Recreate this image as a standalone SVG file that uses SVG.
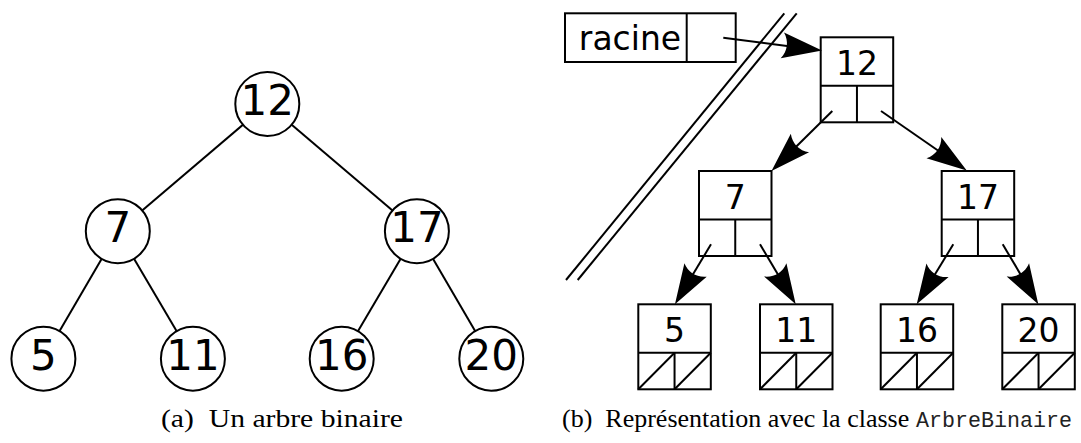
<svg xmlns="http://www.w3.org/2000/svg" width="1081" height="443" viewBox="0 0 1081 443">
<style>
.c{fill:#fff;stroke:#000;stroke-width:2}
.ln{stroke:#000;stroke-width:2;fill:none}
.ct{font-family:"DejaVu Sans",sans-serif;font-size:42px;text-anchor:middle;fill:#000}
.bt{font-family:"DejaVu Sans",sans-serif;font-size:33px;text-anchor:middle;fill:#000}
.bx{fill:#fff;stroke:#000;stroke-width:2}
.cap{font-family:"Liberation Serif",serif;font-size:26px;fill:#000}
.mono{font-family:"Liberation Mono",monospace;font-size:22px;fill:#222}
</style>
<defs>
<marker id="ah" markerUnits="userSpaceOnUse" viewBox="-45 -16 50 32" markerWidth="50" markerHeight="32" refX="-10" refY="0" orient="auto" overflow="visible">
<path d="M0,0 L-40,-13 C-34,-5 -34,5 -40,13 Z" fill="#000"/>
</marker>
<g id="node">
<rect class="bx" x="0" y="0" width="72.5" height="85"/>
<line class="ln" x1="0" y1="48.5" x2="72.5" y2="48.5"/>
<line class="ln" x1="36.25" y1="48.5" x2="36.25" y2="85"/>
</g>
<g id="nil">
<line class="ln" x1="0" y1="85" x2="36.25" y2="48.5"/>
<line class="ln" x1="36.25" y1="85" x2="72.5" y2="48.5"/>
</g>
</defs>
<rect width="1081" height="443" fill="#fff"/>

<!-- Left tree -->
<g id="edges-a">
<line class="ln" x1="267.3" y1="104" x2="117.8" y2="231.2"/>
<line class="ln" x1="267.3" y1="104" x2="416.9" y2="231.2"/>
<line class="ln" x1="117.8" y1="231.2" x2="43.4" y2="358.7"/>
<line class="ln" x1="117.8" y1="231.2" x2="192.9" y2="358.7"/>
<line class="ln" x1="416.9" y1="231.2" x2="341.7" y2="358.7"/>
<line class="ln" x1="416.9" y1="231.2" x2="491.3" y2="358.7"/>
</g>
<g id="a12"><circle class="c" cx="267.3" cy="104" r="32"/><text class="ct" x="267.3" y="115">12</text></g>
<g id="a7"><circle class="c" cx="117.8" cy="231.2" r="32"/><text class="ct" x="117.8" y="242.2">7</text></g>
<g id="a17"><circle class="c" cx="416.9" cy="231.2" r="32"/><text class="ct" x="416.9" y="242.2">17</text></g>
<g id="a5"><circle class="c" cx="43.4" cy="358.7" r="32"/><text class="ct" x="43.4" y="369.7">5</text></g>
<g id="a11"><circle class="c" cx="192.9" cy="358.7" r="32"/><text class="ct" x="192.9" y="369.7">11</text></g>
<g id="a16"><circle class="c" cx="341.7" cy="358.7" r="32"/><text class="ct" x="341.7" y="369.7">16</text></g>
<g id="a20"><circle class="c" cx="491.3" cy="358.7" r="32"/><text class="ct" x="491.3" y="369.7">20</text></g>

<!-- Right representation -->
<g id="separator">
<line class="ln" x1="784.3" y1="13.3" x2="566" y2="280"/>
<line class="ln" x1="796.7" y1="13.3" x2="577.7" y2="280"/>
</g>
<g id="racine">
<rect class="bx" x="565" y="13.3" width="170.7" height="48.7"/>
<line class="ln" x1="686.7" y1="13.3" x2="686.7" y2="62"/>
<text class="bt" x="630" y="50">racine</text>
</g>
<g id="b12"><use href="#node" x="820.7" y="37.3"/><text class="bt" x="857" y="74.8">12</text></g>
<g id="b7"><use href="#node" x="699" y="171"/><text class="bt" x="735.3" y="208.5">7</text></g>
<g id="b17"><use href="#node" x="941.7" y="171"/><text class="bt" x="978" y="208.5">17</text></g>
<g id="b5"><use href="#node" x="638.3" y="304.3"/><use href="#nil" x="638.3" y="304.3"/><text class="bt" x="674.6" y="341.8">5</text></g>
<g id="b11"><use href="#node" x="760" y="304.3"/><use href="#nil" x="760" y="304.3"/><text class="bt" x="796.3" y="341.8">11</text></g>
<g id="b16"><use href="#node" x="880.7" y="304.3"/><use href="#nil" x="880.7" y="304.3"/><text class="bt" x="917" y="341.8">16</text></g>
<g id="b20"><use href="#node" x="1002.3" y="304.3"/><use href="#nil" x="1002.3" y="304.3"/><text class="bt" x="1038.6" y="341.8">20</text></g>

<g id="connectors">
<line class="ln" x1="723.3" y1="37.7" x2="812.1" y2="49.2" marker-end="url(#ah)"/>
<line class="ln" x1="832.3" y1="111" x2="778.6" y2="164" marker-end="url(#ah)"/>
<line class="ln" x1="881" y1="111" x2="958.5" y2="164.8" marker-end="url(#ah)"/>
<line class="ln" x1="711" y1="244.3" x2="680.1" y2="295.7" marker-end="url(#ah)"/>
<line class="ln" x1="760" y1="244.3" x2="790.6" y2="295.7" marker-end="url(#ah)"/>
<line class="ln" x1="953.3" y1="244.3" x2="921.9" y2="295.8" marker-end="url(#ah)"/>
<line class="ln" x1="1002.7" y1="244.3" x2="1033.2" y2="295.7" marker-end="url(#ah)"/>
</g>

<g id="captions">
<text class="cap" x="161" y="427" xml:space="preserve" textLength="242" lengthAdjust="spacingAndGlyphs">(a)  Un arbre binaire</text>
<text class="cap" x="562" y="427" xml:space="preserve">(b)  Représentation avec la classe</text>
<text class="mono" x="916" y="427" textLength="156" lengthAdjust="spacingAndGlyphs">ArbreBinaire</text>
</g>
</svg>
